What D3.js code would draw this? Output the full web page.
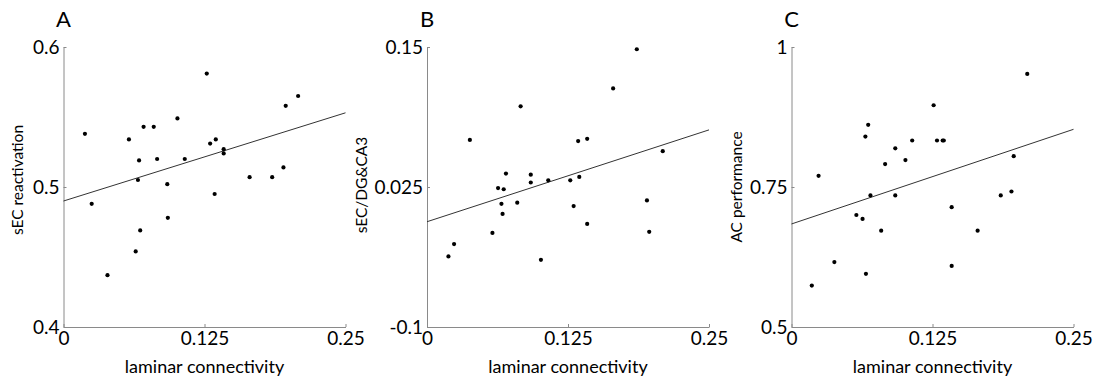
<!DOCTYPE html>
<html>
<head>
<meta charset="utf-8">
<script src="https://cdn.jsdelivr.net/npm/d3@7"></script>
<style>
  body { margin: 0; background: #fff; }
  text { font-family: Lato, "Noto Sans", sans-serif; }
</style>
</head>
<body>
<div id="chart"></div>
<script>
// values
const xTicks = [0, 0.125, 0.25];
const xTickLabels = ['0', '0.125', '0.25'];

const xA = [0.019, 0.025, 0.039, 0.058, 0.067, 0.066, 0.071, 0.068, 0.064, 0.080, 0.083, 0.101, 0.092, 0.0925,
  0.1075, 0.127, 0.130, 0.135, 0.134, 0.142, 0.142, 0.165, 0.185, 0.195, 0.197, 0.208];
const yA = [0.538, 0.488, 0.437, 0.534, 0.519, 0.505, 0.543, 0.469, 0.454, 0.543, 0.520, 0.549, 0.502, 0.478,
  0.520, 0.581, 0.531, 0.534, 0.495, 0.527, 0.524, 0.507, 0.507, 0.514, 0.558, 0.565];

const xB = [0.019, 0.024, 0.038, 0.058, 0.063, 0.068, 0.066, 0.067, 0.070, 0.080, 0.083, 0.092, 0.092, 0.101,
  0.1075, 0.127, 0.130, 0.135, 0.134, 0.142, 0.142, 0.165, 0.186, 0.195, 0.197, 0.209];
const yB = [-0.037, -0.026, 0.067, -0.016, 0.024, 0.023, 0.010, 0.001, 0.037, 0.011, 0.097, 0.036, 0.029, -0.040,
  0.031, 0.031, 0.008, 0.034, 0.066, 0.068, -0.008, 0.113, 0.148, 0.013, -0.015, 0.057];

const xC = [0.018, 0.024, 0.038, 0.0575, 0.063, 0.0655, 0.068, 0.066, 0.070, 0.0795, 0.083, 0.092, 0.092, 0.101,
  0.107, 0.126, 0.129, 0.134, 0.135, 0.142, 0.142, 0.165, 0.1855, 0.195, 0.197, 0.209];
const yC = [0.574, 0.770, 0.616, 0.700, 0.693, 0.840, 0.861, 0.595, 0.735, 0.672, 0.791, 0.819, 0.735, 0.798,
  0.833, 0.896, 0.833, 0.833, 0.833, 0.714, 0.609, 0.672, 0.735, 0.742, 0.805, 0.952];

// regression line end values at x = 0 and x = 0.25
const fitA = [0.490, 0.553];
const fitB = [-0.006, 0.076];
const fitC = [0.684, 0.853];

const panels = [
  { letter: 'A', ylabel: 'sEC reactivation', xs: xA, ys: yA, fit: fitA, labelOff: -41, labelMid: 180,
    yDomain: [0.4, 0.6], yTicks: [0.4, 0.5, 0.6], yTickLabels: ['0.4', '0.5', '0.6'] },
  { letter: 'B', ylabel: 'sEC/DG&CA3', xs: xB, ys: yB, fit: fitB, labelOff: -60, labelMid: 185,
    yDomain: [-0.1, 0.15], yTicks: [-0.1, 0.025, 0.15], yTickLabels: ['-0.1', '0.025', '0.15'] },
  { letter: 'C', ylabel: 'AC performance', xs: xC, ys: yC, fit: fitC, labelOff: -50, labelMid: 187,
    yDomain: [0.5, 1], yTicks: [0.5, 0.75, 1], yTickLabels: ['0.5', '0.75', '1'] }
];

const W = 1094, H = 379;
const lefts = [63.5, 427, 791.5];
const plotW = 282, plotTop = 47, plotBottom = 327;
const axisColor = '#8a8a8a';

const svg = d3.select('#chart').append('svg')
  .attr('width', W).attr('height', H);

panels.forEach((p, i) => {
  const x = d3.scaleLinear().domain([0, 0.25]).range([lefts[i], lefts[i] + plotW]);
  const y = d3.scaleLinear().domain(p.yDomain).range([plotBottom, plotTop]);
  const g = svg.append('g');

  // x axis
  const xa = g.append('g')
    .attr('transform', 'translate(0,' + plotBottom + ')')
    .call(d3.axisBottom(x).tickValues(xTicks)
      .tickFormat((d, k) => xTickLabels[k])
      .tickSizeInner(-3).tickSizeOuter(0).tickPadding(4));

  // y axis
  const ya = g.append('g')
    .attr('transform', 'translate(' + lefts[i] + ',0)')
    .call(d3.axisLeft(y).tickValues(p.yTicks)
      .tickFormat((d, k) => p.yTickLabels[k])
      .tickSizeInner(-3).tickSizeOuter(0).tickPadding(4));

  [xa, ya].forEach(a => {
    a.select('.domain').attr('stroke', axisColor);
    a.selectAll('.tick line').attr('stroke', axisColor);
    a.selectAll('.tick text').attr('fill', '#000').attr('font-size', 19)
      .attr('font-family', 'Lato, "Noto Sans", sans-serif');
  });

  // fit line
  g.append('line')
    .attr('x1', x(0)).attr('y1', y(p.fit[0]))
    .attr('x2', x(0.25)).attr('y2', y(p.fit[1]))
    .attr('stroke', '#333').attr('stroke-width', 1);

  // points
  g.selectAll('circle')
    .data(p.xs.map((v, k) => [v, p.ys[k]]))
    .enter().append('circle')
    .attr('cx', d => x(d[0]))
    .attr('cy', d => y(d[1]))
    .attr('r', 2.1)
    .attr('fill', '#000');

  // panel letter
  g.append('text')
    .attr('x', lefts[i]).attr('y', 27)
    .attr('text-anchor', 'middle')
    .attr('font-size', 22)
    .text(p.letter);

  // axis labels
  g.append('text')
    .attr('x', lefts[i] + plotW / 2).attr('y', 373)
    .attr('text-anchor', 'middle')
    .attr('font-size', 18)
    .text('laminar connectivity');

  g.append('text')
    .attr('transform', 'translate(' + (lefts[i] + p.labelOff) + ',' + p.labelMid + ') rotate(-90)')
    .attr('text-anchor', 'middle')
    .attr('font-size', 15.5)
    .text(p.ylabel);
});
</script>
</body>
</html>
